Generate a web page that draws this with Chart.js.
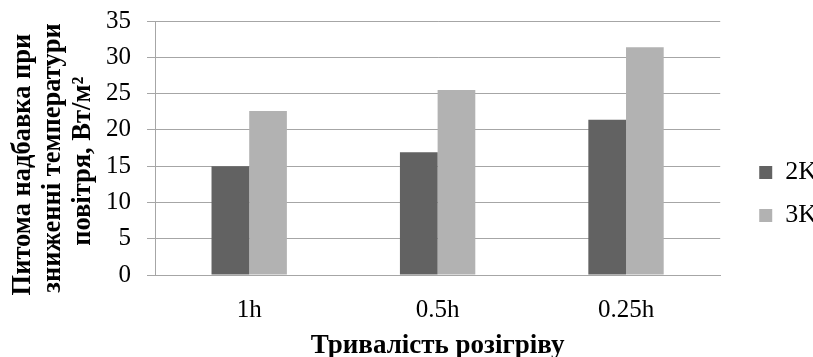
<!DOCTYPE html>
<html>
<head>
<meta charset="utf-8">
<script src="https://cdn.jsdelivr.net/npm/chart.js@4/dist/chart.umd.min.js"></script>
<style>
  html, body { margin: 0; padding: 0; background: #fff; }
  #wrap { width: 813px; height: 357px; position: relative; }
</style>
</head>
<body>
<div id="wrap"><canvas id="chart"></canvas></div>
<script>
/* Bar chart: heat-up surcharge vs. heating duration */
var categories = ["1h", "0.5h", "0.25h"];
var values2K = [15.0, 16.9, 21.4];
var values3K = [22.6, 25.5, 31.4];
var seriesNames = ["2K", "3K"];
// trailing spaces nudge the rotated lines down a little, like the original
var yTitle = ["Питома надбавка при     ", "зниженні температури   ", "повітря, Вт/м²    "];
var xTitle = "Тривалість розігріву";

var serif = "'Liberation Serif', 'Times New Roman', serif";
var gridCol = "#a6a6a6";

/* push the legend a bit further right/down than Chart.js puts it */
var legendNudge = {
    id: "legendNudge",
    afterLayout: function (chart) {
        var l = chart.legend;
        if (!l) return;
        l.left += 22; l.right += 22;
        l.top += 5; l.bottom += 5;
    }
};

var ctx = document.getElementById("chart").getContext("2d");
new Chart(ctx, {
    type: "bar",
    data: {
        labels: categories,
        datasets: [{
            label: seriesNames[0],
            data: values2K,
            backgroundColor: "#626262",
            categoryPercentage: 0.4,
            barPercentage: 1.0
        }, {
            label: seriesNames[1],
            data: values3K,
            backgroundColor: "#b2b2b2",
            categoryPercentage: 0.4,
            barPercentage: 1.0
        }]
    },
    plugins: [legendNudge],
    options: {
        responsive: true,
        maintainAspectRatio: false,
        animation: false,
        layout: { padding: { left: 4, top: 21, right: 8, bottom: 0 } },
        plugins: {
            tooltip: { enabled: false },
            legend: {
                position: "right",
                labels: {
                    color: "#000",
                    font: { family: serif, size: 26 },
                    boxWidth: 13,
                    boxHeight: 13,
                    padding: 17
                }
            }
        },
        scales: {
            x: {
                grid: { display: false },
                border: { display: true, color: gridCol },
                ticks: { color: "#000", font: { family: serif, size: 25 }, padding: 12 },
                title: {
                    display: true,
                    text: xTitle,
                    color: "#000",
                    font: { family: serif, size: 27, weight: "bold", lineHeight: 0.8 },
                    padding: { top: 2, bottom: 0 }
                },
                afterFit: function (scale) { scale.height = 82; }
            },
            y: {
                min: 0,
                max: 35,
                ticks: { stepSize: 5, color: "#000", font: { family: serif, size: 25 }, padding: 16 },
                grid: { color: gridCol, tickLength: 8 },
                border: { display: true, color: gridCol },
                title: {
                    display: true,
                    text: yTitle,
                    color: "#000",
                    font: { family: serif, size: 26.5, weight: "bold", lineHeight: 1.13 },
                    padding: { top: 4, bottom: 0 }
                },
                afterFit: function (scale) {
                    scale.width = 151;
                    scale.paddingTop = 0;
                    scale.paddingBottom = 0;
                }
            }
        }
    }
});
</script>
</body>
</html>
